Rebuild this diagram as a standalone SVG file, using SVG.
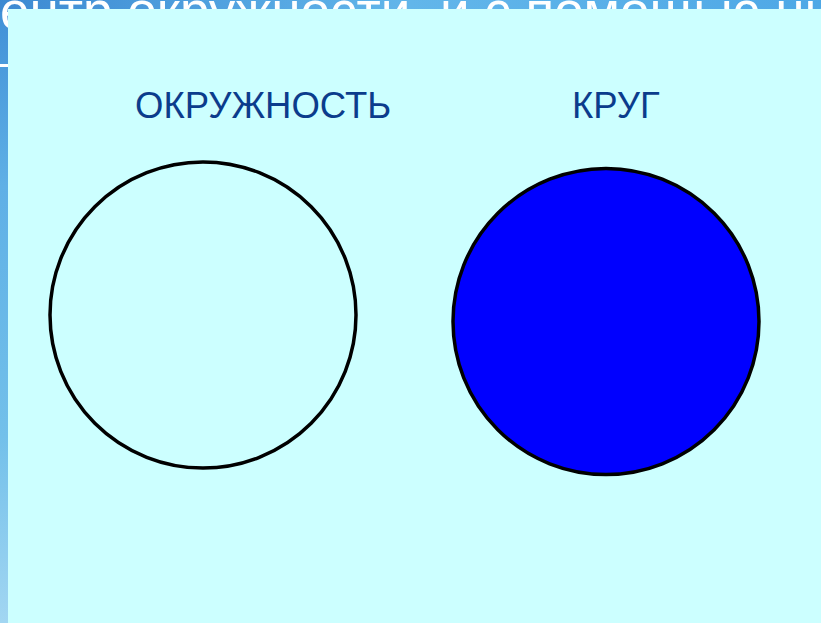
<svg xmlns="http://www.w3.org/2000/svg" width="821" height="623" viewBox="0 0 821 623">
<defs>
<linearGradient id="bg" x1="0" y1="0" x2="0" y2="1">
<stop offset="0" stop-color="#3f8fd6"/>
<stop offset="0.3" stop-color="#5fb0e6"/>
<stop offset="0.7" stop-color="#72c0ea"/>
<stop offset="1" stop-color="#a2d6f2"/>
</linearGradient>
<linearGradient id="topbg" x1="0" y1="0" x2="1" y2="0">
<stop offset="0" stop-color="#3d8ad2"/>
<stop offset="0.5" stop-color="#62b6ea"/>
<stop offset="1" stop-color="#4ea8e6"/>
</linearGradient>
<style>
.lbl{font-family:"Liberation Sans",Arial,sans-serif;font-size:36.5px;fill:#0b3c8c}
.hdr{font-family:"Liberation Sans",Arial,sans-serif;font-size:53px;fill:#ffffff}
.c{stroke:#000;stroke-width:3.5}
</style>
</defs>
<rect x="0" y="0" width="821" height="623" fill="url(#bg)"/>
<rect x="0" y="0" width="821" height="12" fill="url(#topbg)"/>
<text class="hdr" x="0" y="29">ентр окружности, и с помощью ни</text>
<rect x="0" y="64" width="10" height="3" fill="#ffffff"/>
<rect x="8" y="9" width="813" height="614" fill="#ccffff"/>
<g id="okruzhnost">
<circle class="c" cx="203" cy="315" r="153" fill="none"/>
<text class="lbl" x="135" y="118">ОКРУЖНОСТЬ</text>
</g>
<g id="krug">
<circle class="c" cx="606" cy="321.5" r="153" fill="#0000ff"/>
<text class="lbl" x="572" y="118">КРУГ</text>
</g>
<g id="connectors"/>
</svg>
